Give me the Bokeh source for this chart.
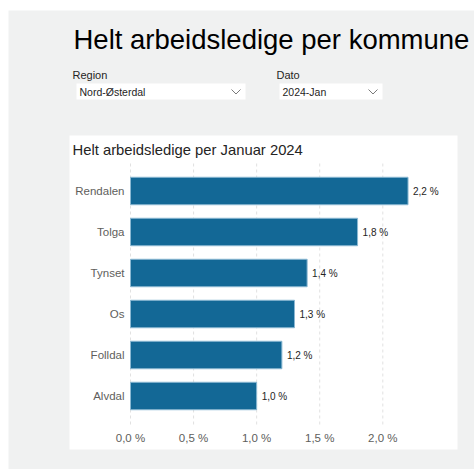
from bokeh.plotting import figure
from bokeh.models import Range1d, FixedTicker, ColumnDataSource, LinearAxis
from bokeh.embed import file_html
from bokeh.resources import INLINE
from bokeh.core.properties import value

# ---- data ----
municipalities = ["Rendalen", "Tolga", "Tynset", "Os", "Folldal", "Alvdal"]
unemployment = [2.2, 1.8, 1.4, 1.3, 1.2, 1.0]
x_ticks = [0.0, 0.5, 1.0, 1.5, 2.0]
x_tick_labels = ["0,0 %", "0,5 %", "1,0 %", "1,5 %", "2,0 %"]
page_title = "Helt arbeidsledige per kommune"
chart_title = "Helt arbeidsledige per Januar 2024"
filter_labels = ["Region", "Dato"]
filter_values = ["Nord-Østerdal", "2024-Jan"]

# ---- style / layout constants (page pixels) ----
GRAY = "#f0f1f1"
FONT = "Liberation Sans"
BAR = "#136896"
BAR_EDGE = "#8ab8d2"
DARK = "#252423"
MID = "#605e5c"

LEFT, TOP, W, H = 8, 10, 466, 459          # canvas placement on the page
X0_PX, PX_PER_UNIT = 130.0, 126.15         # value axis: where 0 lies, px per 1 %
ROW_PX, LAST_ROW_PX = 41.0, 395.5          # category spacing, centre of last row
GRID_TOP_PX, GRID_BOT_PX = 163.0, 427.0

def vx(px):   # page px -> value units
    return (px - X0_PX) / PX_PER_UNIT

def vy(px):   # page px -> row units (0 = last row)
    return (LAST_ROW_PX - px) / ROW_PX

p = figure(width=W, height=H, output_backend="svg", toolbar_location=None,
           x_range=Range1d(LEFT, LEFT + W), y_range=Range1d(TOP + H, TOP),
           x_axis_type=None, y_axis_type=None,
           min_border=0, outline_line_color=None,
           background_fill_color=GRAY, border_fill_color=GRAY,
           margin=(TOP, 0, 0, LEFT))
p.grid.visible = False
p.extra_x_ranges = {"cx": Range1d(vx(LEFT), vx(LEFT + W))}
p.extra_y_ranges = {"cy": Range1d(vy(TOP + H), vy(TOP))}

# ---- header with slicers ----
p.text(x=[73], y=[39], text=[page_title], text_font=value(FONT),
       text_font_size="27.5px", text_color="#000000", text_baseline="alphabetic")
p.text(x=[72, 276], y=[74, 74], text=filter_labels, text_font=value(FONT),
       text_font_size="11px", text_color=DARK, text_baseline="alphabetic")
p.quad(left=[76, 279], right=[245, 382], top=[83, 83], bottom=[99, 99],
       fill_color="white", line_color=None)
p.text(x=[79, 282], y=[91.5, 91.5], text=filter_values, text_font=value(FONT),
       text_font_size="10.5px", text_color=DARK, text_baseline="middle")
p.multi_line(xs=[[231, 235.5, 240], [368, 372.5, 377]],
             ys=[[89, 93.5, 89], [89, 93.5, 89]],
             line_color="#7a7a7a", line_width=1)

# ---- chart card ----
p.quad(left=[69], right=[457], top=[135], bottom=[449],
       fill_color="white", line_color=None)
p.text(x=[72], y=[149], text=[chart_title], text_font=value(FONT),
       text_font_size="14.8px", text_color=DARK, text_baseline="alphabetic")

rows = list(range(len(municipalities)))[::-1]   # first item on top
src = ColumnDataSource(dict(
    row=rows,
    val=unemployment,
    lab=[f"{v:.1f} %".replace(".", ",") for v in unemployment],
))

# dashed vertical grid lines at the value ticks
p.segment(x0=x_ticks, x1=x_ticks,
          y0=[vy(GRID_TOP_PX)] * len(x_ticks), y1=[vy(GRID_BOT_PX)] * len(x_ticks),
          x_range_name="cx", y_range_name="cy",
          line_color="#e1e1e1", line_dash="3 3", line_width=1)

p.hbar(y="row", right="val", left=0, height=0.67, source=src,
       x_range_name="cx", y_range_name="cy",
       fill_color=BAR, line_color=BAR_EDGE, line_width=1)
p.text(x="val", y="row", text="lab", source=src, x_offset=5,
       x_range_name="cx", y_range_name="cy",
       text_font=value(FONT), text_font_size="10px", text_color=DARK,
       text_baseline="middle", text_align="left")

xaxis = LinearAxis(x_range_name="cx", y_range_name="cy",
                   fixed_location=vy(GRID_BOT_PX),
                   ticker=FixedTicker(ticks=x_ticks),
                   major_label_overrides={t: l for t, l in zip(x_ticks, x_tick_labels)},
                   major_label_standoff=4)
yaxis = LinearAxis(x_range_name="cx", y_range_name="cy", fixed_location=0,
                   ticker=FixedTicker(ticks=rows),
                   major_label_overrides={r: n for r, n in zip(rows, municipalities)},
                   major_label_standoff=6)
for ax in (xaxis, yaxis):
    ax.axis_line_color = None
    ax.major_tick_line_color = None
    ax.minor_tick_line_color = None
    ax.major_tick_out = 0
    ax.major_tick_in = 0
    ax.minor_tick_out = 0
    ax.minor_tick_in = 0
    ax.major_label_text_font = FONT
    ax.major_label_text_font_size = "11.5px"
    ax.major_label_text_color = MID
p.add_layout(xaxis, "below")
p.add_layout(yaxis, "left")

open("out.html", "w").write(file_html(p, INLINE))
